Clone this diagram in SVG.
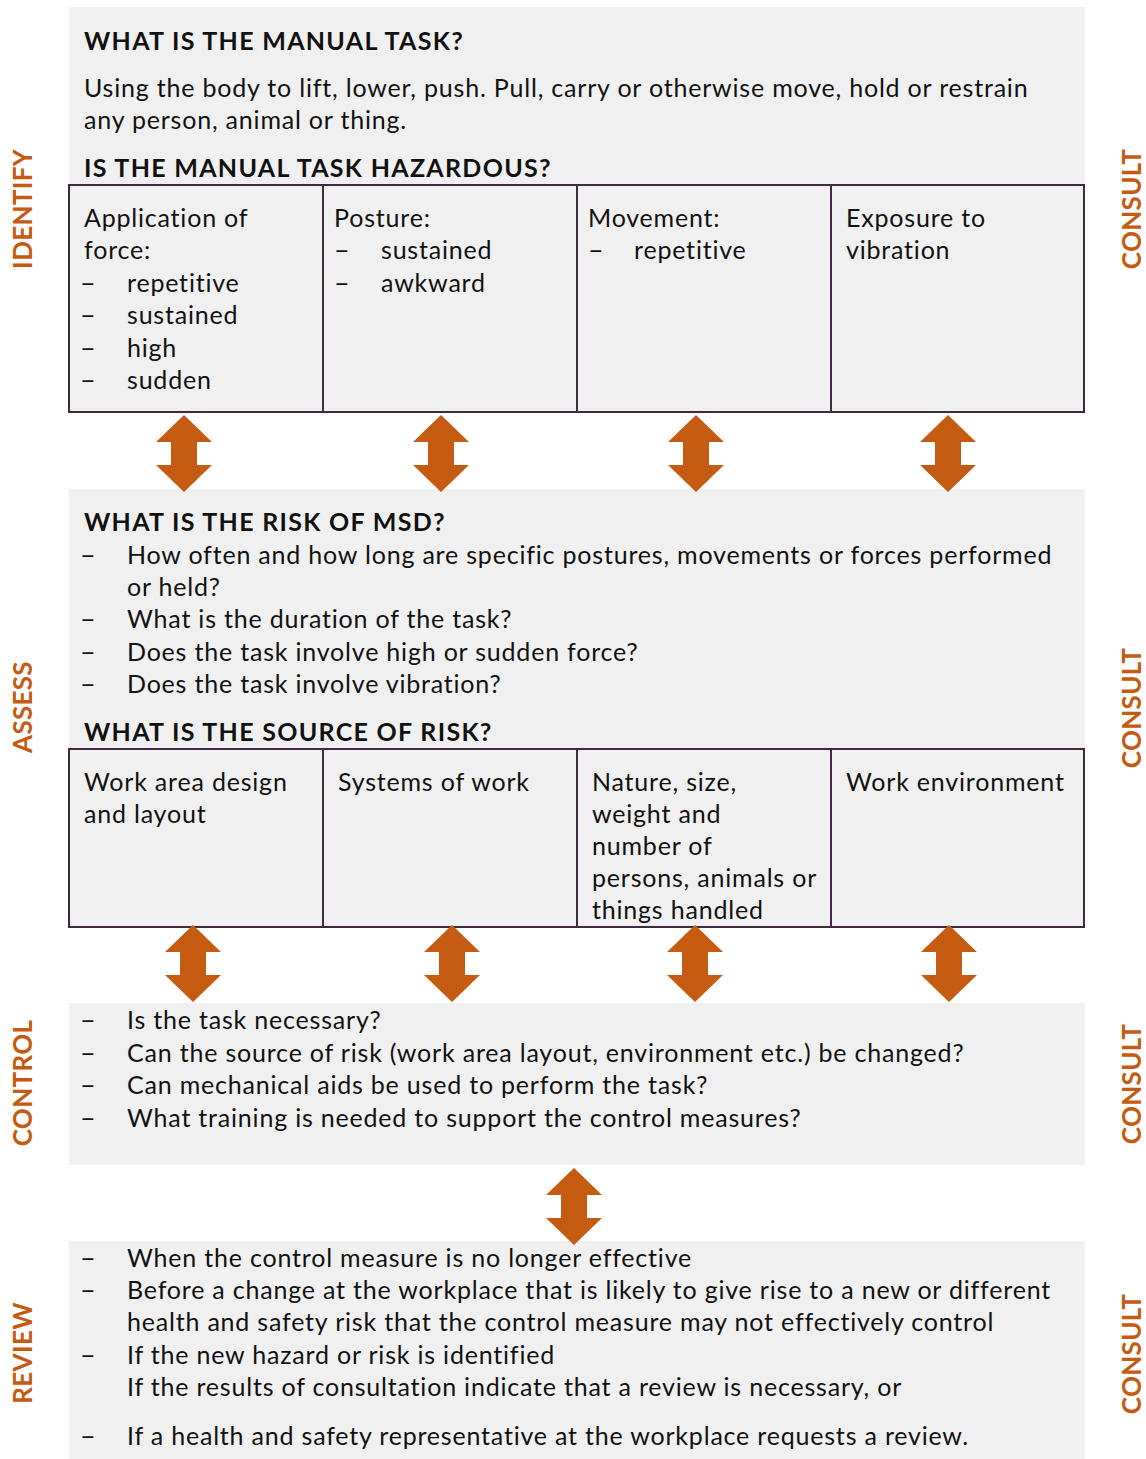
<svg xmlns="http://www.w3.org/2000/svg" xmlns:xlink="http://www.w3.org/1999/xlink" width="1146" height="1459" viewBox="0 0 1146 1459">
<style>
.bg{fill:#F0F0F0}
.tb{fill:none;stroke:#3F2A3F;stroke-width:2}
text{font-family:Lato,"Liberation Sans",sans-serif;font-size:25px;fill:#111;letter-spacing:0.8px}
.h{font-weight:bold;letter-spacing:1.3px}
.d{font-size:27px;letter-spacing:0}
.side{font-weight:bold;font-size:26px;fill:#C55A11;text-anchor:middle;letter-spacing:0.3px}
.arr{fill:#C55A11}
</style>
<defs>
<path id="dbl" class="arr" d="M0,0 L28,27 L13,27 L13,50 L28,50 L0,77 L-28,50 L-13,50 L-13,27 L-28,27 Z"/>
</defs>
<rect width="1146" height="1459" fill="#fff"/>

<g id="identify">
<rect class="bg" x="69" y="7" width="1016" height="405"/>
<text class="h" x="84" y="50">WHAT IS THE MANUAL TASK?</text>
<text x="84" y="97">Using the body to lift, lower, push. Pull, carry or otherwise move, hold or restrain</text>
<text x="84" y="129">any person, animal or thing.</text>
<text class="h" x="84" y="177">IS THE MANUAL TASK HAZARDOUS?</text>
<g id="hazard-table">
<rect class="tb" x="69" y="185" width="1015" height="227"/>
<line class="tb" x1="323" y1="185" x2="323" y2="412"/>
<line class="tb" x1="577" y1="185" x2="577" y2="412"/>
<line class="tb" x1="831" y1="185" x2="831" y2="412"/>
</g>
<g id="force">
<text x="84" y="227">Application of</text>
<text x="84" y="259">force:</text>
<text class="d" x="80" y="292">–</text><text x="127" y="292">repetitive</text>
<text class="d" x="80" y="324">–</text><text x="127" y="324">sustained</text>
<text class="d" x="80" y="357">–</text><text x="127" y="357">high</text>
<text class="d" x="80" y="389">–</text><text x="127" y="389">sudden</text>
</g>
<g id="posture">
<text x="334" y="227">Posture:</text>
<text class="d" x="334" y="259">–</text><text x="381" y="259">sustained</text>
<text class="d" x="334" y="292">–</text><text x="381" y="292">awkward</text>
</g>
<g id="movement">
<text x="588" y="227">Movement:</text>
<text class="d" x="588" y="259">–</text><text x="634" y="259">repetitive</text>
</g>
<g id="vibration">
<text x="846" y="227">Exposure to</text>
<text x="846" y="259">vibration</text>
</g>
</g>

<g id="assess">
<rect class="bg" x="69" y="489" width="1016" height="438"/>
<text class="h" x="84" y="531">WHAT IS THE RISK OF MSD?</text>
<text class="d" x="80" y="564">–</text><text x="127" y="564">How often and how long are specific postures, movements or forces performed</text>
<text x="127" y="596">or held?</text>
<text class="d" x="80" y="628">–</text><text x="127" y="628">What is the duration of the task?</text>
<text class="d" x="80" y="661">–</text><text x="127" y="661">Does the task involve high or sudden force?</text>
<text class="d" x="80" y="693">–</text><text x="127" y="693">Does the task involve vibration?</text>
<text class="h" x="84" y="741">WHAT IS THE SOURCE OF RISK?</text>
<g id="source-table">
<rect class="tb" x="69" y="749" width="1015" height="178"/>
<line class="tb" x1="323" y1="749" x2="323" y2="927"/>
<line class="tb" x1="577" y1="749" x2="577" y2="927"/>
<line class="tb" x1="831" y1="749" x2="831" y2="927"/>
</g>
<g id="work-area">
<text x="84" y="791">Work area design</text>
<text x="84" y="823">and layout</text>
</g>
<g id="systems">
<text x="338" y="791">Systems of work</text>
</g>
<g id="nature">
<text x="592" y="791">Nature, size,</text>
<text x="592" y="823">weight and</text>
<text x="592" y="855">number of</text>
<text x="592" y="887">persons, animals or</text>
<text x="592" y="919">things handled</text>
</g>
<g id="environment">
<text x="846" y="791">Work environment</text>
</g>
</g>

<g id="control">
<rect class="bg" x="69" y="1003" width="1016" height="162"/>
<text class="d" x="80" y="1029">–</text><text x="127" y="1029">Is the task necessary?</text>
<text class="d" x="80" y="1062">–</text><text x="127" y="1062">Can the source of risk (work area layout, environment etc.) be changed?</text>
<text class="d" x="80" y="1094">–</text><text x="127" y="1094">Can mechanical aids be used to perform the task?</text>
<text class="d" x="80" y="1127">–</text><text x="127" y="1127">What training is needed to support the control measures?</text>
</g>

<g id="review">
<rect class="bg" x="69" y="1241" width="1016" height="218"/>
<text class="d" x="80" y="1267">–</text><text x="127" y="1267">When the control measure is no longer effective</text>
<text class="d" x="80" y="1299">–</text><text x="127" y="1299">Before a change at the workplace that is likely to give rise to a new or different</text>
<text x="127" y="1331">health and safety risk that the control measure may not effectively control</text>
<text class="d" x="80" y="1364">–</text><text x="127" y="1364">If the new hazard or risk is identified</text>
<text x="127" y="1396">If the results of consultation indicate that a review is necessary, or</text>
<text class="d" x="80" y="1445">–</text><text x="127" y="1445">If a health and safety representative at the workplace requests a review.</text>
</g>

<g id="side-labels">
<text class="side" transform="translate(32,209) rotate(-90)">IDENTIFY</text>
<text class="side" transform="translate(32,707) rotate(-90)">ASSESS</text>
<text class="side" transform="translate(32,1083) rotate(-90)">CONTROL</text>
<text class="side" transform="translate(32,1353) rotate(-90)">REVIEW</text>
<text class="side" transform="translate(1141,209) rotate(-90)">CONSULT</text>
<text class="side" transform="translate(1141,708) rotate(-90)">CONSULT</text>
<text class="side" transform="translate(1141,1084) rotate(-90)">CONSULT</text>
<text class="side" transform="translate(1141,1354) rotate(-90)">CONSULT</text>
</g>

<g id="connectors">
<use xlink:href="#dbl" x="184" y="415"/>
<use xlink:href="#dbl" x="441" y="415"/>
<use xlink:href="#dbl" x="696" y="415"/>
<use xlink:href="#dbl" x="948" y="415"/>
<use xlink:href="#dbl" x="193" y="925"/>
<use xlink:href="#dbl" x="452" y="925"/>
<use xlink:href="#dbl" x="695" y="925"/>
<use xlink:href="#dbl" x="949" y="925"/>
<use xlink:href="#dbl" x="574" y="1168"/>
</g>
</svg>
